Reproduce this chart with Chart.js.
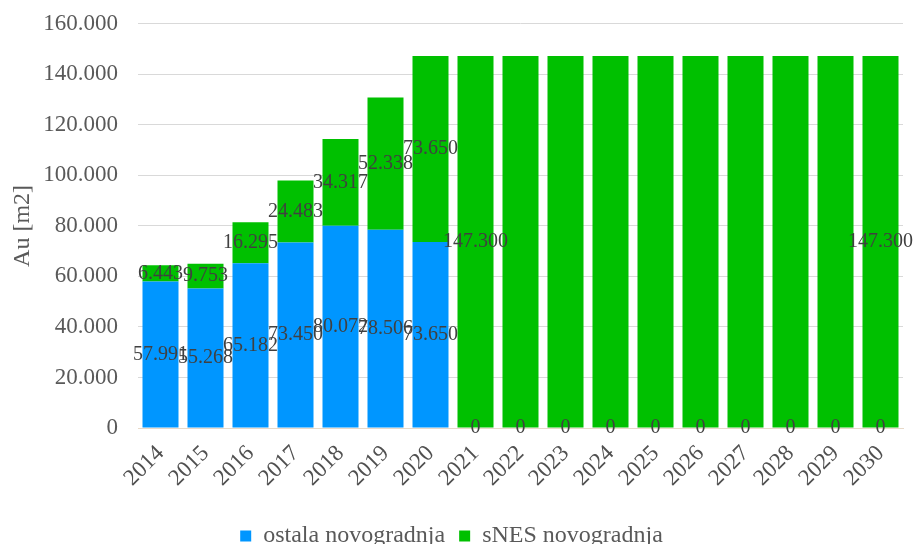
<!DOCTYPE html>
<html lang="hr">

<head>
    <meta charset="UTF-8">
    <script src="https://cdn.jsdelivr.net/npm/chart.js"></script>
    <title>Au novogradnja</title>
    <style>
        html, body { margin: 0; padding: 0; background: #fff; overflow: hidden; }
        #okvir { width: 919px; height: 544px; overflow: hidden; }
        #grafikon { display: block; margin-top: -10px; }
    </style>
</head>

<body>
<div id="okvir">
    <canvas id="grafikon" width="919" height="568"></canvas>
</div>

<script>
    var godine = ['2014', '2015', '2016', '2017', '2018', '2019', '2020', '2021', '2022',
        '2023', '2024', '2025', '2026', '2027', '2028', '2029', '2030'];
    var ostalaNovogradnja = [57991, 55268, 65182, 73450, 80072, 78506, 73650, 0, 0, 0, 0, 0, 0, 0, 0, 0, 0];
    var snesNovogradnja = [6443, 9753, 16295, 24483, 34317, 52338, 73650, 147300, 147300, 147300,
        147300, 147300, 147300, 147300, 147300, 147300, 147300];
    // koje oznake vrijednosti se vide na slici
    var ostalaOznake = [1, 1, 1, 1, 1, 1, 1, 1, 1, 1, 1, 1, 1, 1, 1, 1, 1];
    var snesOznake = [1, 1, 1, 1, 1, 1, 1, 1, 0, 0, 0, 0, 0, 0, 0, 0, 1];
    var yTicks = [0, 20000, 40000, 60000, 80000, 100000, 120000, 140000, 160000];

    function formatBroj(v) {
        return String(v).replace(/\B(?=(\d{3})+(?!\d))/g, '.');
    }

    var oznakePlugin = {
        id: 'oznake',
        afterDatasetsDraw: function (chart) {
            var ctx = chart.ctx;
            ctx.save();
            ctx.font = '20px "Liberation Serif"';
            ctx.fillStyle = '#404040';
            ctx.textAlign = 'center';
            ctx.textBaseline = 'middle';
            chart.data.datasets.forEach(function (ds, i) {
                var meta = chart.getDatasetMeta(i);
                meta.data.forEach(function (bar, j) {
                    if (!ds.oznake[j]) return;
                    var p = bar.getCenterPoint();
                    ctx.fillText(formatBroj(ds.data[j]), p.x, p.y);
                });
            });
            ctx.restore();
        }
    };

    new Chart(document.getElementById('grafikon'), {
        type: 'bar',
        data: {
            labels: godine,
            datasets: [{
                label: 'ostala novogradnja',
                data: ostalaNovogradnja,
                oznake: ostalaOznake,
                backgroundColor: '#0096ff',
                barPercentage: 0.8,
                categoryPercentage: 1
            }, {
                label: 'sNES novogradnja',
                data: snesNovogradnja,
                oznake: snesOznake,
                backgroundColor: '#00c000',
                barPercentage: 0.8,
                categoryPercentage: 1
            }]
        },
        options: {
            responsive: false,
            animation: false,
            layout: { padding: { left: 0, right: 16, top: 2, bottom: 0 } },
            plugins: {
                legend: {
                    position: 'bottom',
                    labels: {
                        boxWidth: 11,
                        boxHeight: 11,
                        padding: 14,
                        color: '#595959',
                        font: { family: 'Liberation Serif', size: 24 }
                    }
                },
                tooltip: { enabled: false }
            },
            scales: {
                x: {
                    stacked: true,
                    grid: { display: false, drawTicks: false },
                    border: { color: '#e8d9c8' },
                    ticks: {
                        color: '#505050',
                        minRotation: 45,
                        maxRotation: 45,
                        padding: 12,
                        font: { family: 'Liberation Serif', size: 23 }
                    },
                    afterFit: function (axis) { axis.height = 82; }
                },
                y: {
                    stacked: true,
                    min: 0,
                    max: 160000,
                    afterBuildTicks: function (axis) {
                        axis.ticks = yTicks.map(function (v) { return { value: v }; });
                    },
                    grid: { color: '#d9d9d9', drawTicks: false },
                    border: { display: false },
                    ticks: {
                        color: '#595959',
                        padding: 20,
                        font: { family: 'Liberation Serif', size: 23 },
                        callback: function (v) { return formatBroj(v); }
                    },
                    title: {
                        display: true,
                        text: 'Au [m2]',
                        color: '#595959',
                        padding: { top: 8, bottom: 0 },
                        font: { family: 'Liberation Serif', size: 24 }
                    },
                    afterFit: function (axis) { axis.width = 138; }
                }
            }
        },
        plugins: [oznakePlugin]
    });
</script>
</body>

</html>
